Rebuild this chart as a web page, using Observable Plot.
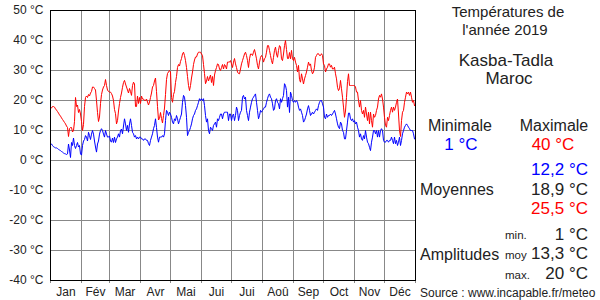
<!DOCTYPE html>
<html><head><meta charset="utf-8">
<script src="https://cdn.jsdelivr.net/npm/d3@7"></script>
<script src="https://cdn.jsdelivr.net/npm/@observablehq/plot@0.6"></script>
<style>body{margin:0;background:#fff}#chart{width:600px;height:300px}</style>
</head><body><div id="chart"></div>
<script>
const months = ["Jan","Fév","Mar","Avr","Mai","Jui","Jui","Aoû","Sep","Oct","Nov","Déc"];
const monthStarts = [0,31,59,90,120,151,181,212,243,273,304,334,365];
const yTicks = [-40,-30,-20,-10,0,10,20,30,40,50];

const tmax = [
17.2,17.5,18,18,17.8,17.2,16.8,16.3,15.8,15.2,
14.8,14.2,13.7,13.2,12.7,12.2,11.5,11,8,10.6,
11,11,9.5,10,13,21,18,18.5,16,17,
15.5,13,10,12,18,21,21.5,21,22,21.5,
22.5,23,24.5,24.5,24,23.5,20,16,13,14.5,
19,22,23.5,24.5,25,27,25,23.5,23,22.8,
22.8,22.3,21.5,20,17,15.6,12.2,13.3,16.5,19,
21,22.5,24.4,26,26.7,25.5,24.5,23.5,22.5,24,
23,21.7,25,26.1,25.5,18,18,21.5,19,21,
19,21.5,20.5,20.5,20,20,20.5,19.5,18.5,19.5,
21,22.5,24.5,25,26.5,27.5,23,18,13.5,14,
16,14,12.5,15,17.5,22,27,29,29.5,30,
29.5,21,19.4,22,23,26,28,31,32,31.5,
33,34,35.5,36.1,35,33.3,31,28,25,23.3,
25,27.5,29.5,32,33.5,34.5,34.5,35.5,36.1,36.1,
36.1,35.5,35,32,29,25.6,26.5,28,26.5,27.5,
28.5,26,28,25,28.5,30,31,32.2,32,30.5,
30,31,32,30.5,32,31.5,30.5,32.8,32.8,32.8,
33.3,32.2,31,32.8,34,32.2,31,29.5,29,28.9,
30.5,32.2,33.3,34.4,35.5,36.1,35,33.3,31,33.9,
35.5,35.5,35,36.1,37,35.5,33.9,31.7,30.5,32.8,
34.4,35,34.4,32.8,33.9,34.4,36.1,38.3,38.3,36.7,
35,33.3,32.2,34.4,36.7,37.8,35.5,34.4,36.7,38.3,
37.8,33.9,33.3,35.5,38.3,40,37,34,34,36,
33.9,36.7,33.9,33.3,34.4,32.8,31.7,29.5,31.7,27,
26.1,28.9,27.2,25.5,27.2,28.3,29.5,31.1,32.8,31.7,
32.2,30,28.9,29.5,31.1,34.4,35,35.6,35.6,35,
35,35.6,35,32.2,31.7,29.5,30.5,31.1,32.2,32.2,
31.1,31.7,30.5,30.5,31.1,28.9,27.2,24.4,23.3,23.9,
26.7,23.9,21.1,17.8,14.4,16.5,21,26.3,28.9,25,
25,25,25,25,25,24.5,22.8,22.8,20,17.8,
20,16.7,15.5,16.7,14.4,17.8,15.5,13.3,16.1,12.2,
16.1,13.3,11.1,15.5,14.4,15,16.7,17.8,20.5,21.7,
21.1,22.2,20.5,17.8,14.4,11.7,11.1,14.4,13.3,15,
16.7,17.8,16.1,17.8,16.7,17.8,19.4,20.5,15.5,10,
8,13.3,16.1,16.7,19.4,21.1,22.8,22.2,22.8,21.7,
22.8,21.1,19.4,20,18.3
];

const tmin = [
5.8,5.5,5,4.6,4.4,4.2,4.2,4,3.7,3.5,
3.3,3,2.8,2.5,2.3,2.2,2,2.2,5.5,3.5,
1,6,5,7.5,5,4,5,6,4.5,5,
2.2,1.8,5,6.5,7,8.3,7.8,6.5,9.4,8.3,
7,8.8,10,8.8,6.5,4.5,2.8,5.5,6.5,8.8,
10,10.6,10,8.8,7.8,10,8.8,7.8,7.8,8.2,
6.5,6.1,7.5,6,7.8,6,7.2,7.8,8.9,7.8,
10,10.5,8.9,11.5,13.9,12.2,10,11.7,9.4,12.2,
13.9,11.7,9.4,8.9,7.8,8.3,7.2,7.8,7.2,7.8,
7.8,7.2,7.2,6.7,7.2,7.2,6.7,6.7,5.6,5,
6.7,7.8,8.9,10.6,11.7,13.9,11,7.8,6.1,7.8,
7.8,7.8,8.3,7.8,8.9,13.3,16.7,16.1,15,16.1,
15.5,14.4,12.8,12.2,13.9,13.3,15,13.9,12.2,13.3,
14.4,15.5,19.4,21.7,21.1,18.3,14.4,8.3,9.4,10,
11,12.2,13.9,15,15.5,16.7,17.2,18.3,19.4,20.6,
20,20.6,20,20.6,18.3,15,12.8,13.9,10,8.9,
11.1,10.6,10,11.7,12.2,12.8,11.1,13.9,13.3,14.4,
15.5,15.5,13.9,15.5,16.1,16.1,16.1,16.1,13.3,15.5,
15.5,13.3,15,15.5,13.3,15,17.8,16.7,13.3,15,
16.1,16.7,21.1,21.7,20.5,21.1,16.7,15,13.3,16.1,
17.8,19.4,20.6,21.1,21.7,22.2,19.4,16.7,13.9,15,
16.7,16.1,16.7,17.2,17.8,17.8,19.4,20.6,21.7,22.2,
21.1,20.6,18.9,16.7,17.2,20,20.6,19.4,18.9,17.2,
20.6,19.4,20.6,21.7,25.6,25,23.3,17.8,21.1,16,
22.8,21.7,20,19.4,20,19.4,20,19.4,17.8,16.7,
17.2,16.1,15,12.8,13.3,14.4,15.5,17.2,18.3,16.7,
15,15.5,16.1,15.5,16.1,16.7,17.2,16.7,18.3,19.4,
20,20,18.9,17.8,14.4,13.9,15.5,14.4,15,15,
15.5,15,15.5,16.1,16.7,15.5,13.9,12.2,11.1,10.6,
12.8,12.2,10,9.4,7.2,7.2,10,12.8,15.8,15.8,
13.9,13.3,13.9,12.8,13.3,12.2,12.8,11.1,10,7.8,
8.9,7.2,6.7,8.3,7.2,10,7.8,6.1,5.6,4.4,
3.3,6.1,7.8,10,10,8.9,10,7.8,10,7.8,
10,10.6,10,6.7,6.1,6.1,6.7,6.7,6.1,6.7,
6.7,7.8,6.7,5.6,7.8,5.6,6.7,5,6.1,7.8,
5,6.7,8.9,10,11.1,11.7,12.2,11.7,11.1,10.6,
10,10,10,8.9,7.2
];

const title = ["Températures de", "l'année 2019"];
const place = ["Kasba-Tadla", "Maroc"];
const recordMin = 1, recordMax = 40;
const meanMin = 12.2, meanAll = 18.9, meanMax = 25.5;
const ampMin = 1, ampMean = 13.3, ampMax = 20;
const source = "Source : www.incapable.fr/meteo";

const fmt = v => String(v).replace(".", ",") + " °C";
const maxData = tmax.map((t, i) => ({day: i, t}));
const minData = tmin.map((t, i) => ({day: i, t}));
const mids = months.map((m, i) => (monthStarts[i] + monthStarts[i + 1]) / 2);
const labelAt = new Map(mids.map((m, i) => [m, months[i]]));

const chart = Plot.plot({
  width: 600, height: 300,
  marginLeft: 50, marginRight: 185, marginTop: 10, marginBottom: 20,
  style: {fontFamily: "'Liberation Sans', Arial, sans-serif", fontSize: "12px", background: "white", color: "#222"},
  x: {domain: [0, 365], axis: null, label: null},
  y: {domain: [-40, 50], axis: null, label: null},
  marks: [
    Plot.ruleY(yTicks, {stroke: "#888", strokeWidth: 1}),
    Plot.ruleX(monthStarts, {stroke: "#888", strokeWidth: 1}),
    Plot.axisX({ticks: monthStarts, tickSize: 3, tickFormat: () => "", stroke: "#888", label: null}),
    Plot.axisX({ticks: mids, tickSize: 0, tickPadding: 7, tickFormat: d => labelAt.get(d), label: null, fontSize: 12}),
    Plot.axisY({ticks: yTicks, tickSize: 0, tickPadding: 7, tickFormat: d => `${d} °C`, label: null, fontSize: 12}),
    Plot.line(maxData, {x: "day", y: "t", stroke: "#ff0000", strokeWidth: 1}),
    Plot.line(minData, {x: "day", y: "t", stroke: "#0000ff", strokeWidth: 1}),
    Plot.frame({stroke: "black", strokeWidth: 1})
  ]
});
document.getElementById("chart").appendChild(chart);

const g = d3.select(chart).append("g")
  .attr("font-family", "'Liberation Sans', Arial, sans-serif")
  .attr("fill", "#222");
function t(x, y, s, size, anchor, color) {
  g.append("text").attr("x", x).attr("y", y).attr("font-size", size)
    .attr("text-anchor", anchor).attr("fill", color || "#222").text(s);
}
t(508, 17, title[0], 15, "middle");
t(505, 35, title[1], 15, "middle");
t(506, 66, place[0], 17, "middle");
t(509, 84, place[1], 17, "middle");
t(460, 131, "Minimale", 16, "middle");
t(554, 131, "Maximale", 16, "middle");
t(461, 150, fmt(recordMin), 17, "middle", "#0000ff");
t(553, 150, fmt(recordMax), 17, "middle", "#ff0000");
t(588, 175, fmt(meanMin), 17, "end", "#0000ff");
t(420, 195, "Moyennes", 16, "start");
t(588, 195, fmt(meanAll), 17, "end");
t(588, 214, fmt(meanMax), 17, "end", "#ff0000");
t(505, 239, "min.", 11.5, "start");
t(588, 240, fmt(ampMin), 17, "end");
t(420, 260, "Amplitudes", 16, "start");
t(505, 259, "moy", 11.5, "start");
t(588, 259, fmt(ampMean), 17, "end");
t(505, 279, "max.", 11.5, "start");
t(588, 279, fmt(ampMax), 17, "end");
t(420, 297, source, 12, "start");
</script>
</body></html>
